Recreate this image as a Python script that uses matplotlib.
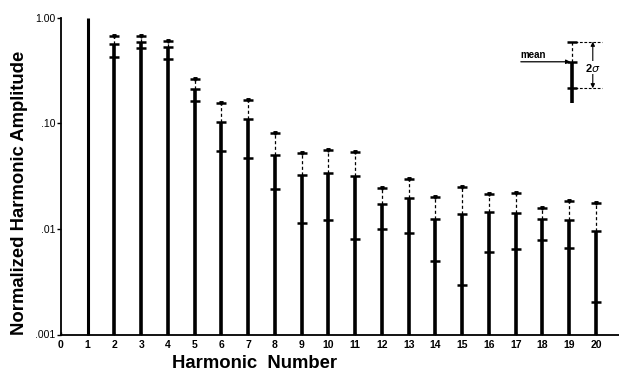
import matplotlib
matplotlib.use("Agg")
import matplotlib.pyplot as plt

plt.rcParams['font.family'] = ['Liberation Sans', 'DejaVu Sans']

# ---- data ----
harmonics = list(range(1, 21))
mean_amp = [1.0, 0.561, 0.582, 0.522, 0.212, 0.102, 0.109, 0.0496, 0.0323, 0.0339,
            0.0318, 0.0172, 0.0195, 0.0123, 0.0139, 0.0143, 0.0140, 0.0123, 0.0120, 0.0095]
upper_amp = [None, 0.675, 0.673, 0.603, 0.262, 0.155, 0.164, 0.0806, 0.0521, 0.0556,
             0.0536, 0.0246, 0.0294, 0.0200, 0.0250, 0.0214, 0.0220, 0.0157, 0.0183, 0.0175]
lower_amp = [None, 0.423, 0.511, 0.402, 0.163, 0.0544, 0.0464, 0.0240, 0.0114, 0.0121,
             0.0081, 0.00994, 0.00904, 0.00498, 0.00292, 0.00598, 0.00647, 0.00787, 0.00652, 0.00201]
xtick_labels = [str(i) for i in range(0, 21)]
ytick_values = [0.001, 0.01, 0.1, 1.0]
ytick_labels = ['.001', '.01', '.10', '1.00']

# key (schematic legend) values
key_x = 19.1
key_top, key_mean, key_low, key_bottom = 0.59, 0.381, 0.214, 0.154

fig = plt.figure(figsize=(6.19, 3.72), dpi=100)
ax = fig.add_axes([61 / 619, 37.5 / 372, 558 / 619, 317 / 372])
ax.set_yscale('log')
ax.set_ylim(0.001, 1.0)
ax.set_xlim(0, 20.86)

base = 0.001
solid_lw = 2.6
for h, m, up, lo in zip(harmonics, mean_amp, upper_amp, lower_amp):
    ax.plot([h, h], [base, m], color='black', lw=solid_lw if up is not None else 2.2,
            solid_capstyle='butt', clip_on=False, zorder=3)
    if up is not None:
        ax.plot([h, h], [m, up], color='black', lw=0.9, linestyle=(0, (2.5, 2)), clip_on=False, zorder=3)
        ax.plot([h], [up], marker='_', markersize=6.5, mew=1.8, color='black', clip_on=False, zorder=4)
        ax.plot([h], [up], marker='v', markersize=2.5, color='black', clip_on=False, zorder=4)
        ax.plot([h, h], [m, lo], linestyle='none', marker='_', markersize=7, mew=1.8,
                color='black', clip_on=False, zorder=4)

# ---- key ----
ax.plot([key_x, key_x], [key_bottom, key_mean], color='black', lw=solid_lw, solid_capstyle='butt', zorder=3)
ax.plot([key_x, key_x], [key_mean, key_top], color='black', lw=0.9, linestyle=(0, (2.5, 2)), zorder=3)
ax.plot([key_x], [key_top], marker='_', markersize=6.5, mew=1.8, color='black', zorder=4)
ax.plot([key_x, key_x], [key_mean, key_low], linestyle='none', marker='_', markersize=7, mew=1.8,
        color='black', zorder=4)
ax.annotate('', xy=(key_x - 0.06, key_mean), xytext=(17.19, key_mean),
            arrowprops=dict(arrowstyle='-|>', color='black', lw=0.9, mutation_scale=6,
                            shrinkA=0, shrinkB=0))
ax.text(17.19, key_mean * 1.03, 'mean', fontsize=7, fontweight='bold', ha='left', va='bottom')
for yv in (key_top, key_low):
    ax.plot([key_x + 0.1, 20.21], [yv, yv], color='black', lw=0.8, linestyle=(0, (2.5, 1.5)))
ax.annotate('', xy=(19.88, key_top), xytext=(19.88, key_low),
            arrowprops=dict(arrowstyle='<|-|>', color='black', lw=0.8, mutation_scale=6,
                            shrinkA=0, shrinkB=0))
ax.text(19.88, 0.335, '2$\\sigma$', fontsize=8, fontweight='bold', ha='center', va='center',
        bbox=dict(facecolor='white', edgecolor='none', pad=0.5), zorder=5)

# ---- axes styling ----
for s in ('top', 'right'):
    ax.spines[s].set_visible(False)
ax.spines['left'].set_linewidth(1.3)
ax.spines['bottom'].set_linewidth(1.3)
ax.spines['left'].set_bounds(0.001, 1.0)

ax.set_yticks(ytick_values)
ax.set_yticklabels(ytick_labels, fontsize=7.5)
ax.yaxis.set_minor_locator(matplotlib.ticker.NullLocator())
ax.tick_params(axis='y', direction='out', length=3, width=1, pad=1)

ax.set_xticks(range(0, 21))
ax.set_xticklabels(xtick_labels, fontsize=7.5, fontweight='bold')
ax.tick_params(axis='x', direction='in', length=2, width=1, pad=4)

fig.text(20 / 619, 1 - 193 / 372, 'Normalized Harmonic Amplitude', rotation=90,
         fontsize=13.3, fontweight='bold', ha='center', va='center')
fig.text(255 / 619, 1 - 363 / 372, 'Harmonic  Number', fontsize=13.3, fontweight='bold',
         ha='center', va='center')

fig.savefig('out.png', dpi=100)
